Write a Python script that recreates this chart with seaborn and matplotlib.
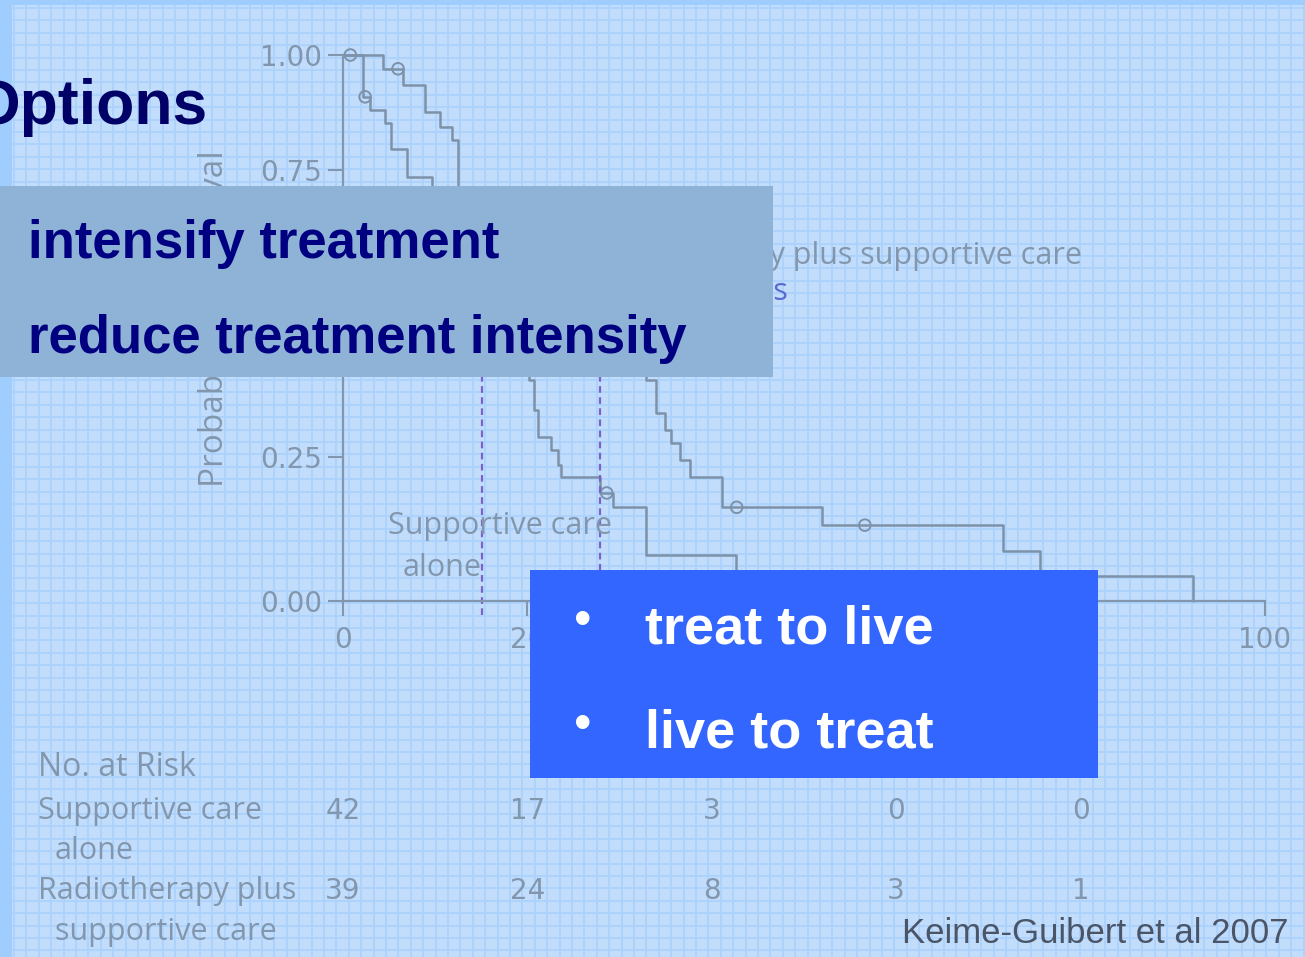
import numpy as np
import pandas as pd
import matplotlib
matplotlib.use("Agg")
import matplotlib.pyplot as plt
from matplotlib.patches import Rectangle
from matplotlib.transforms import blended_transform_factory
import seaborn as sns

# ---- Kaplan-Meier data (weeks, survival probability from that time on) ----
supportive_weeks = [0, 2.17, 2.93, 4.56, 5.2, 6.94, 9.65, 11.0, 12.4, 13.7, 15.1,
                    16.8, 18.3, 20.2, 20.7, 21.1, 22.6, 23.3, 23.6, 27.9, 29.3,
                    32.9, 42.6, 47.5, 55.0]
supportive_surv = [1.0, 0.909, 0.881, 0.853, 0.796, 0.737, 0.70, 0.66, 0.61, 0.57, 0.50,
                   0.45, 0.42, 0.384, 0.332, 0.285, 0.263, 0.237, 0.216, 0.188, 0.164,
                   0.080, 0.050, 0.025, 0.0]
supportive_cens_weeks = [0.8, 2.4, 28.6]
supportive_cens_surv = [1.0, 0.909, 0.188]

radio_weeks = [0, 4.34, 6.51, 8.89, 10.52, 11.82, 12.47, 14.8, 17.5, 20.2, 22.9,
               25.1, 27.9, 29.5, 31.2, 32.9, 33.9, 34.9, 35.6, 36.5, 37.6,
               41.1, 51.9, 71.6, 75.6, 92.2]
radio_surv = [1.0, 0.970, 0.935, 0.876, 0.843, 0.815, 0.70, 0.66, 0.62, 0.58, 0.55,
              0.52, 0.50, 0.46, 0.43, 0.384, 0.327, 0.297, 0.275, 0.245, 0.216,
              0.163, 0.132, 0.087, 0.0435, 0.0]
radio_cens_weeks = [5.97, 42.7, 56.6]
radio_cens_surv = [0.970, 0.163, 0.132]

median_weeks = [15.1, 27.9]

x_ticks = [0, 20, 40, 60, 80, 100]
y_ticks = [0.0, 0.25, 0.50, 0.75, 1.0]
y_tick_labels = ["0.00", "0.25", "0.50", "0.75", "1.00"]

risk_weeks = [0, 20, 40, 60, 80]
risk_supportive = [42, 17, 3, 0, 0]
risk_radio = [39, 24, 8, 3, 1]

arm_supportive = "Supportive care alone"
arm_radio = "Radiotherapy plus supportive care"

# ---- colours ----
OUTER = "#9fcdfd"
PANEL = "#c2ddfc"
GRID = "#abd2fd"
FADED = "#8297ad"
CURVE = "#7d92a9"
MEDIAN = "#7a63c2"
NAVY = "#000080"
GREYBOX = "#8fb3d6"
BLUEBOX = "#3366ff"

sns.set_style("ticks")
plt.rcParams["font.family"] = ["Open Sans", "DejaVu Sans"]

W, H = 1305, 957
fig = plt.figure(figsize=(W / 100, H / 100), dpi=100)

# ---- slide background with fine grid texture ----
bg = fig.add_axes([0, 0, 1, 1], zorder=0)
bg.set_xlim(0, W)
bg.set_ylim(H, 0)
bg.axis("off")
bg.add_patch(Rectangle((0, 0), W, H, color=OUTER, lw=0))
bg.add_patch(Rectangle((12, 5), W - 12, H - 5, color=PANEL, lw=0))
gx = np.arange(14, W, 12.4)
gy = np.arange(8, H, 12.4)
bg.vlines(gx, 5, H, color=GRID, lw=1.3)
bg.hlines(gy, 12, W, color=GRID, lw=1.3)

# ---- survival plot ----
L, R, T, B = 343, 1265, 55, 601
km = fig.add_axes([L / W, 1 - B / H, (R - L) / W, (B - T) / H], zorder=1)
km.patch.set_alpha(0)

K = 0.8  # compressed spacing above 0.75


def fwd(y):
    y = np.asarray(y, dtype=float)
    return np.where(y <= 0.75, y, 0.75 + (y - 0.75) * K)


def inv(t):
    t = np.asarray(t, dtype=float)
    return np.where(t <= 0.75, t, 0.75 + (t - 0.75) / K)


km.set_yscale("function", functions=(fwd, inv))

curves = pd.concat([
    pd.DataFrame({"weeks": supportive_weeks, "survival": supportive_surv, "arm": arm_supportive}),
    pd.DataFrame({"weeks": radio_weeks, "survival": radio_surv, "arm": arm_radio}),
])
censored = pd.concat([
    pd.DataFrame({"weeks": supportive_cens_weeks, "survival": supportive_cens_surv, "arm": arm_supportive}),
    pd.DataFrame({"weeks": radio_cens_weeks, "survival": radio_cens_surv, "arm": arm_radio}),
])
palette = {arm_supportive: CURVE, arm_radio: CURVE}

sns.lineplot(data=curves, x="weeks", y="survival", hue="arm", palette=palette,
             estimator=None, sort=False, drawstyle="steps-post", legend=False,
             linewidth=1.8, ax=km)
for line in km.lines:
    line.set_clip_on(False)
sns.scatterplot(data=censored, x="weeks", y="survival", marker="o", s=70,
                facecolor="none", edgecolor=CURVE, linewidth=1.4,
                legend=False, ax=km, clip_on=False)

km.vlines(median_weeks, -0.025, 0.5, colors=MEDIAN, linestyles=(0, (3, 2)),
          lw=1.6, clip_on=False)

km.set_xlim(0, 100)
km.set_ylim(0, 1.0)
km.set_xticks(x_ticks)
km.set_yticks(y_ticks)
km.set_yticklabels(y_tick_labels)
km.set_xlabel("")
km.set_ylabel("")
for s in ["top", "right"]:
    km.spines[s].set_visible(False)
for s in ["left", "bottom"]:
    km.spines[s].set_color(FADED)
    km.spines[s].set_linewidth(1.6)
km.tick_params(axis="both", colors=FADED, labelcolor=FADED, labelsize=20,
               length=11, width=1.5, pad=4)
km.tick_params(axis="x", pad=7)
for lab in km.get_xticklabels() + km.get_yticklabels():
    lab.set_fontfamily("DejaVu Sans")

km.text(-0.139, 0.518, "Probability of Survival", transform=km.transAxes,
        rotation=90, ha="center", va="center", fontsize=24, color=FADED)

# ---- overlay in slide pixel coordinates ----
ov = fig.add_axes([0, 0, 1, 1], zorder=2)
ov.set_xlim(0, W)
ov.set_ylim(H, 0)
ov.axis("off")
ov.patch.set_alpha(0)

# curve labels inside the plot area
ov.text(388, 526, "Supportive care", ha="left", va="center", fontsize=22, color=FADED, zorder=1)
ov.text(403, 568, "alone", ha="left", va="center", fontsize=22, color=FADED, zorder=1)
ov.text(1082, 256, "Radiotherapy plus supportive care", ha="right", va="center",
        fontsize=22, color=FADED, zorder=1)
ov.text(788, 292, "Median survival times", ha="right", va="center",
        fontsize=22, color="#5a6ad0", zorder=1)

# number at risk table
risk_tr = blended_transform_factory(km.transData, ov.transData)
ov.text(38, 767, "No. at Risk", ha="left", va="center", fontsize=23, color=FADED)
ov.text(38, 811, "Supportive care", ha="left", va="center", fontsize=22, color=FADED)
ov.text(55, 851, "alone", ha="left", va="center", fontsize=22, color=FADED)
ov.text(38, 891, "Radiotherapy plus", ha="left", va="center", fontsize=22, color=FADED)
ov.text(55, 932, "supportive care", ha="left", va="center", fontsize=22, color=FADED)
for wk, a, b in zip(risk_weeks, risk_supportive, risk_radio):
    ov.text(wk, 811, str(a), transform=risk_tr, ha="center", va="center",
            fontsize=20, color=FADED, family="DejaVu Sans")
    ov.text(wk, 891, str(b), transform=risk_tr, ha="center", va="center",
            fontsize=20, color=FADED, family="DejaVu Sans")

# slide title and callout boxes
bold_sans = dict(family=["Liberation Sans", "DejaVu Sans"], weight="bold")
ov.text(-29, 124, "Options", ha="left", va="baseline", fontsize=45, color="#000066",
        zorder=5, **bold_sans)

ov.add_patch(Rectangle((0, 186), 773, 191, color=GREYBOX, lw=0, zorder=3))
ov.text(28, 258, "intensify treatment", ha="left", va="baseline", fontsize=38,
        color=NAVY, zorder=4, **bold_sans)
ov.text(28, 353, "reduce treatment intensity", ha="left", va="baseline", fontsize=38,
        color=NAVY, zorder=4, **bold_sans)

ov.add_patch(Rectangle((530, 570), 568, 208, color=BLUEBOX, lw=0, zorder=3))
for yb, txt in [(643, "treat to live"), (747, "live to treat")]:
    ov.text(583, yb - 21, "\u2022", ha="center", va="center", fontsize=36,
            color="white", zorder=4, family=["Liberation Sans", "DejaVu Sans"])
    ov.text(645, yb, txt, ha="left", va="baseline", fontsize=39, color="white",
            zorder=4, **bold_sans)

ov.text(1288, 943, "Keime-Guibert et al 2007", ha="right", va="baseline", fontsize=25,
        color="#4a5568", family=["Liberation Sans", "DejaVu Sans"], zorder=4)

fig.savefig("out.png", dpi=100)
